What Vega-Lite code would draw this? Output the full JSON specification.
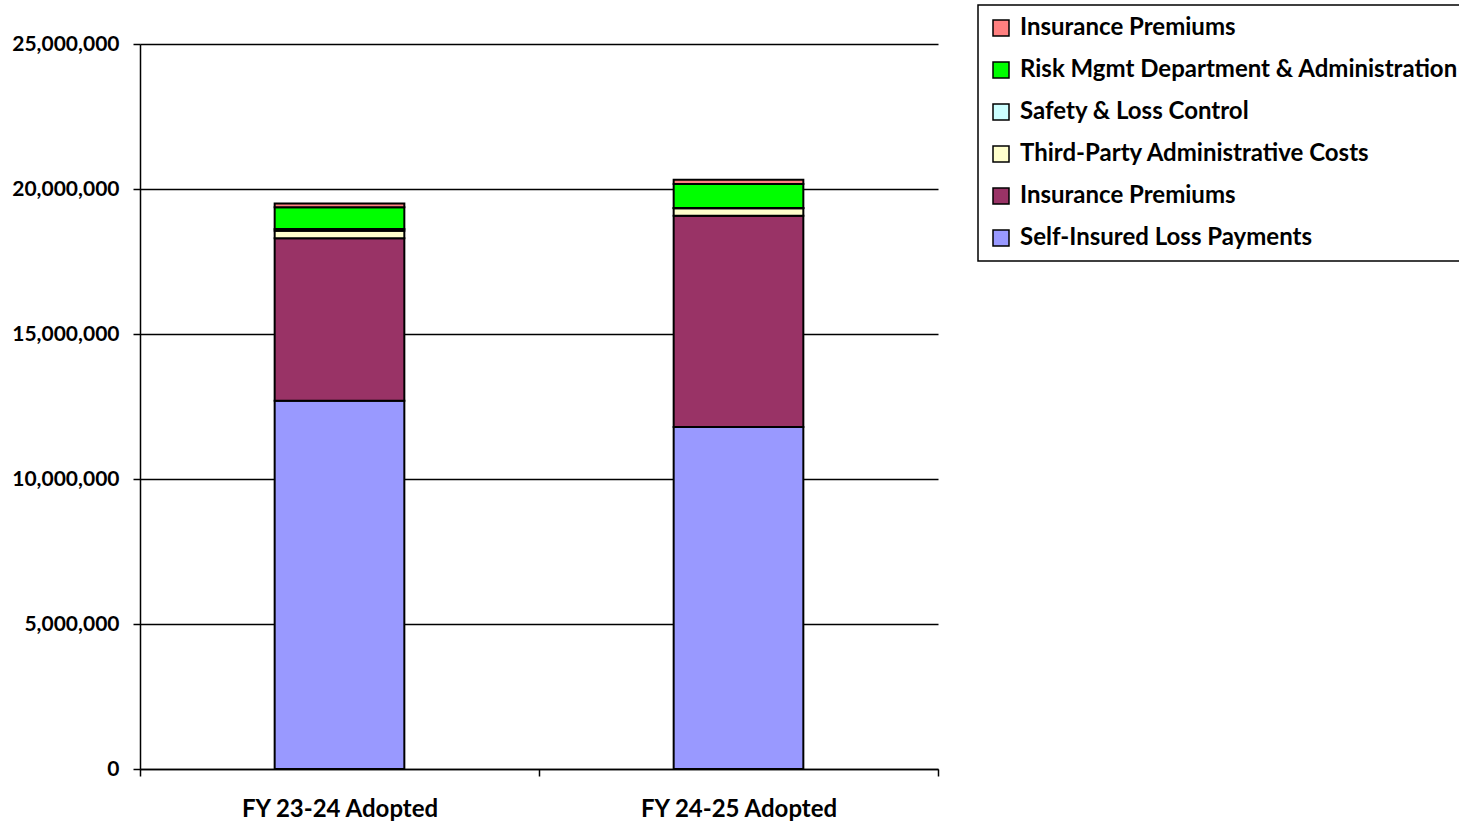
{
  "$schema": "https://vega.github.io/schema/vega-lite/v6.json",
  "width": 798,
  "height": 725,
  "autosize": {"type": "none"},
  "padding": {"left": 140, "top": 44, "right": 521, "bottom": 53},
  "background": "white",
  "config": {
    "font": "Lato",
    "view": {"stroke": null}
  },
  "data": {
    "values": [
      {"year": "FY 23-24 Adopted", "series": "Self-Insured Loss Payments", "layer": 1, "amount": 12700000},
      {"year": "FY 23-24 Adopted", "series": "Insurance Premiums", "layer": 2, "amount": 5600000},
      {"year": "FY 23-24 Adopted", "series": "Third-Party Administrative Costs", "layer": 3, "amount": 260000},
      {"year": "FY 23-24 Adopted", "series": "Safety & Loss Control", "layer": 4, "amount": 60000},
      {"year": "FY 23-24 Adopted", "series": "Risk Mgmt Department & Administration", "layer": 5, "amount": 750000},
      {"year": "FY 23-24 Adopted", "series": "Insurance Premiums (2)", "layer": 6, "amount": 130000},
      {"year": "FY 24-25 Adopted", "series": "Self-Insured Loss Payments", "layer": 1, "amount": 11790000},
      {"year": "FY 24-25 Adopted", "series": "Insurance Premiums", "layer": 2, "amount": 7290000},
      {"year": "FY 24-25 Adopted", "series": "Third-Party Administrative Costs", "layer": 3, "amount": 255000},
      {"year": "FY 24-25 Adopted", "series": "Safety & Loss Control", "layer": 4, "amount": 10000},
      {"year": "FY 24-25 Adopted", "series": "Risk Mgmt Department & Administration", "layer": 5, "amount": 830000},
      {"year": "FY 24-25 Adopted", "series": "Insurance Premiums (2)", "layer": 6, "amount": 140000}
    ]
  },
  "mark": {"type": "bar", "stroke": "black", "strokeWidth": 2, "opacity": 1, "width": {"band": 0.325}},
  "encoding": {
    "x": {
      "field": "year",
      "type": "nominal",
      "title": null,
      "sort": null,
      "scale": {"paddingInner": 0, "paddingOuter": 0},
      "axis": {
        "labelAngle": 0,
        "labelFont": "Lato",
        "labelFontSize": 24,
        "labelFontWeight": "bold",
        "labelColor": "black",
        "labelPadding": 21,
        "labelLimit": 400,
        "domainColor": "black",
        "domainWidth": 1.5,
        "tickColor": "black",
        "tickWidth": 1.5,
        "tickSize": 7,
        "tickBand": "extent",
        "grid": false
      }
    },
    "y": {
      "field": "amount",
      "type": "quantitative",
      "aggregate": "sum",
      "stack": "zero",
      "title": null,
      "scale": {"domain": [0, 25000000], "nice": false},
      "axis": {
        "values": [0, 5000000, 10000000, 15000000, 20000000, 25000000],
        "format": ",d",
        "labelFont": "Lato",
        "labelFontSize": 21,
        "labelFontWeight": "bold",
        "labelColor": "black",
        "labelPadding": 14,
        "domainColor": "black",
        "domainWidth": 1.5,
        "tickColor": "black",
        "tickWidth": 1.5,
        "tickSize": 7,
        "grid": true,
        "gridColor": "black",
        "gridWidth": 1.5,
        "gridOpacity": 1
      }
    },
    "order": {"field": "layer", "type": "quantitative", "sort": "ascending"},
    "color": {
      "field": "series",
      "type": "nominal",
      "title": null,
      "scale": {
        "domain": [
          "Insurance Premiums (2)",
          "Risk Mgmt Department & Administration",
          "Safety & Loss Control",
          "Third-Party Administrative Costs",
          "Insurance Premiums",
          "Self-Insured Loss Payments"
        ],
        "range": ["#FF8080", "#00FF00", "#CCFFFF", "#FFFFCC", "#993366", "#9999FF"]
      },
      "legend": {
        "orient": "none",
        "legendX": 838,
        "legendY": -39,
        "labelExpr": "replace(datum.label, ' (2)', '')",
        "labelFont": "Lato",
        "labelFontSize": 24,
        "labelFontWeight": "bold",
        "labelColor": "black",
        "labelLimit": 700,
        "labelOffset": 7,
        "symbolType": "square",
        "symbolSize": 256,
        "symbolStrokeColor": "black",
        "symbolStrokeWidth": 1.5,
        "symbolOpacity": 1,
        "rowPadding": 18,
        "padding": 11,
        "strokeColor": "black",
        "fillColor": "white",
        "encode": {"legend": {"update": {"strokeWidth": {"value": 1.5}}}}
      }
    }
  }
}
